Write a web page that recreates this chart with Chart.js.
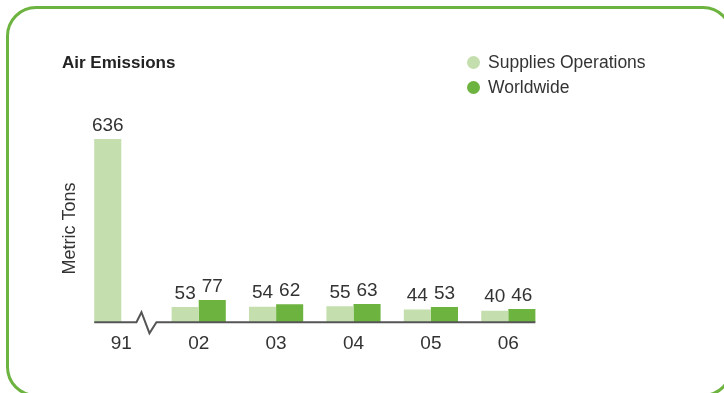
<!DOCTYPE html>
<html>
<head>
<meta charset="utf-8">
<title>Air Emissions</title>
<script src="https://cdn.jsdelivr.net/npm/chart.js@4"></script>
<style>
    body { margin: 0; background: #fff; font-family: "Liberation Sans", Arial, sans-serif; color: #333; }
    #wrap { position: relative; width: 724px; height: 393px; overflow: hidden; }
    #frame {
        position: absolute; left: 6px; top: 6px; width: 727px; height: 391px;
        border: 3px solid #6db33f; border-radius: 30px; box-sizing: border-box;
    }
    #title { position: absolute; left: 62px; top: 53px; font-size: 17px; font-weight: bold; color: #222; }
    #legend { position: absolute; left: 467px; top: 50px; font-size: 17.5px; line-height: 25px; }
    #legend .dot { display: inline-block; width: 13px; height: 13px; border-radius: 50%; margin-right: 8px; vertical-align: -1px; }
    canvas { position: absolute; left: 0; top: 0; }
</style>
</head>
<body>
<div id="wrap">
    <canvas id="airChart" width="724" height="393"></canvas>
    <div id="frame"></div>
    <div id="title">Air Emissions</div>
    <div id="legend"></div>
</div>
<script>
const categories = ["91", "02", "03", "04", "05", "06"];
const suppliesOperations = [636, 53, 54, 55, 44, 40];
const worldwide = [null, 77, 62, 63, 53, 46];
const seriesNames = ["Supplies Operations", "Worldwide"];
const seriesColors = ["#c4dfad", "#6db33f"];

document.addEventListener("DOMContentLoaded", function () {
    const ctx = document.getElementById("airChart").getContext("2d");

    // value above every bar
    const barValues = {
        id: "barValues",
        afterDatasetsDraw(chart) {
            const c = chart.ctx;
            c.save();
            c.font = "19px 'Liberation Sans', Arial, sans-serif";
            c.fillStyle = "#333";
            c.textAlign = "center";
            c.textBaseline = "bottom";
            chart.data.datasets.forEach((ds, i) => {
                chart.getDatasetMeta(i).data.forEach((bar, j) => {
                    if (ds.data[j] == null) return;
                    c.fillText(ds.data[j], bar.x, bar.y - 4);
                });
            });
            c.restore();
        }
    };

    // baseline with a break mark between 91 and 02
    const brokenBaseline = {
        id: "brokenBaseline",
        afterDatasetsDraw(chart) {
            const c = chart.ctx;
            const first = chart.getDatasetMeta(0).data;
            const second = chart.getDatasetMeta(1).data;
            const y = chart.scales.y.getPixelForValue(0);
            const left = first[0].x - first[0].width / 2;
            const last = second[second.length - 1];
            const right = last.x + last.width / 2;
            const m = ((first[0].x + first[0].width / 2) + (first[1].x - first[1].width / 2)) / 2;
            c.save();
            c.strokeStyle = "#555";
            c.lineWidth = 2;
            c.beginPath();
            c.moveTo(left, y);
            c.lineTo(m - 10, y);
            c.lineTo(m - 5, y - 10);
            c.lineTo(m + 3, y + 11);
            c.lineTo(m + 10, y);
            c.lineTo(right, y);
            c.stroke();
            c.restore();
        }
    };

    const chart = new Chart(ctx, {
        type: "bar",
        data: {
            labels: categories,
            datasets: [
                { label: seriesNames[0], data: suppliesOperations, backgroundColor: seriesColors[0] },
                { label: seriesNames[1], data: worldwide, backgroundColor: seriesColors[1] }
            ]
        },
        options: {
            responsive: false,
            animation: false,
            layout: { padding: { left: 55, right: 177, top: 135, bottom: 28 } },
            datasets: { bar: { categoryPercentage: 0.7, barPercentage: 1.0 } },
            plugins: {
                legend: { display: false },
                tooltip: { enabled: false }
            },
            scales: {
                x: {
                    grid: { display: false, drawTicks: false },
                    border: { display: false },
                    ticks: { color: "#333", padding: 10, font: { size: 19, family: "'Liberation Sans', Arial, sans-serif" } }
                },
                y: {
                    min: 0,
                    max: 650,
                    grid: { display: false, drawTicks: false },
                    border: { display: false },
                    ticks: { display: false },
                    title: {
                        display: true,
                        text: "Metric Tons",
                        color: "#333",
                        padding: { top: 4, bottom: 2 },
                        font: { size: 18, family: "'Liberation Sans', Arial, sans-serif" }
                    }
                }
            }
        },
        plugins: [barValues, brokenBaseline]
    });

    // legend entries built from the datasets
    const legend = document.getElementById("legend");
    chart.data.datasets.forEach((ds) => {
        const row = document.createElement("div");
        const dot = document.createElement("span");
        dot.className = "dot";
        dot.style.background = ds.backgroundColor;
        row.appendChild(dot);
        row.appendChild(document.createTextNode(ds.label));
        legend.appendChild(row);
    });
});
</script>
</body>
</html>
